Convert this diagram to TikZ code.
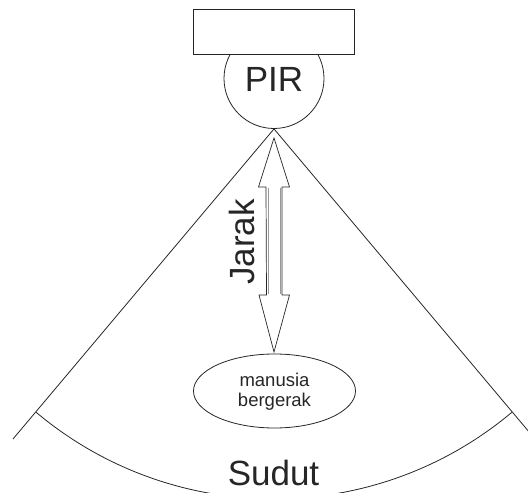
\documentclass[tikz,border=0pt]{standalone}
\usepackage{fontspec}
\setmainfont{Liberation Sans}
\usetikzlibrary{shapes.geometric}
\begin{document}
\begin{tikzpicture}[x=1pt,y=1pt,
  ln/.style={draw=black!85, line width=0.8pt},
  big/.style={font=\fontsize{35}{40}\selectfont, text=black!85, inner sep=0pt},
  small/.style={font=\fontsize{18.5}{20}\selectfont, text=black!85, align=center, inner sep=0pt}]
\useasboundingbox (0,0) rectangle (528,493);
\clip (0,0) rectangle (528,493);
% sensor
\node[ln, circle, minimum size=100pt, inner sep=0pt] (pir) at (274,414.5) {};
\node[ln, fill=white, minimum width=161pt, minimum height=45pt, inner sep=0pt] (box) at (273.5,461.5) {};
\node[big] (pirlabel) at (274,414) {PIR};
% detection cone
\coordinate (apex) at (pir.south);
\coordinate (lend) at (13,54);
\coordinate (rend) at (535,54);
\draw[ln] (lend) -- (apex) -- (rend);
\draw[ln] (apex) ++(230:370) arc[start angle=230, end angle=310, radius=370];
% distance double arrow
\coordinate (ttip) at (274,355);
\coordinate (btip) at (274,141);
\draw[ln, line width=0.7pt, fill=white, line join=miter]
  (ttip) -- ++(-15.5,-49) -- ++(7.5,0) -- (266.5,198) -- ++(-7.5,0) -- (btip)
  -- (289.5,198) -- ++(-7.5,0) -- (282,306) -- ++(7.5,0) -- cycle;
\draw[black!40, line width=0.6pt] (268.5,305) -- (268.5,199) (280,305) -- (280,199);
\node[big, rotate=90] (jarak) at (241.5,251) {Jarak};
% human
\node[ln, ellipse, minimum width=162pt, minimum height=74pt, inner sep=0pt] (human) at (274.5,102) {};
\node[small] (humanlabel) at (274.5,101) {manusia\\bergerak};
% angle label
\node[big] (sudut) at (273.5,20.5) {Sudut};
\end{tikzpicture}
\end{document}
